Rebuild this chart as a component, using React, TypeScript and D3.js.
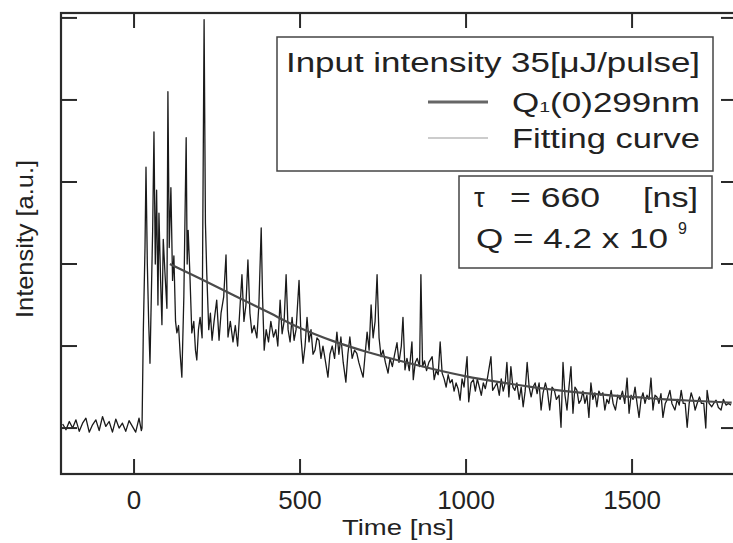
import React from "react";
import * as d3 from "d3";

const timeNs: number[] = [
  -215,-205,-195,-185,-175,-165,-155,-145,-135,-125,-115,-105,-95,-85,-75,-65,-55,-45,-35,-25,-15,-5,5,15,22,
  24,28,33,36,40,44,48,52,56,60,64,68,72,75,80,84,88,93,99,102,106,111,116,120,125,129,134,139,144,150,157,160,163,168,174,180,185,189,194,199,205,211,215,219,225,230,235,241,249,256,262,270,277,283,290,298,305,312,318,325,331,337,343,349,355,362,370,376,383,387,392,398,405,412,420,427,433,440,446,452,458,464,470,476,482,488,497,503,509,515,521,527,533,539,545,551,557,563,569,577,584,590,597,604,611,617,623,630,638,644,650,657,664,671,677,684,690,696,702,708,714,720,726,732,738,744,750,757,765,771,778,785,792,798,805,810,816,822,829,837,841,847,853,860,864,869,875,881,888,898,904,910,916,922,928,934,940,946,952,958,964,970,976,982,988,994,1003,1008,1015,1022,1028,1034,1040,1046,1052,1058,1064,1075,1080,1086,1093,1100,1106,1112,1118,1123,1129,1135,1141,1147,1153,1160,1166,1172,1178,1184,1190,1196,1202,1208,1214,1220,1226,1232,1239,1245,1252,1259,1266,1272,1280,1286,1292,1298,1304,1310,1316,1322,1328,1334,1340,1346,1352,1358,1364,1370,1376,1382,1388,1394,1400,1406,1412,1418,1424,1430,1437,1443,1450,1457,1464,1471,1478,1485,1491,1497,1503,1509,1515,1521,1527,1533,1539,1545,1551,1557,1563,1569,1575,1581,1587,1593,1600,1606,1614,1620,1629,1636,1642,1648,1654,1660,1666,1672,1678,1684,1690,1696,1703,1709,1716,1722,1726,1732,1740,1746,1753,1760,1768,1775,1783,1790,1798
];

const intensity: number[] = [
  0.05,-0.02,0.08,0.0,0.1,-0.04,0.06,0.12,-0.05,0.04,0.1,-0.03,0.14,0.02,0.08,-0.05,0.11,0.0,0.06,-0.04,0.09,0.02,-0.05,0.12,-0.03,
  0.0,1.2,2.2,3.18,2.0,1.3,0.79,1.6,2.4,3.61,2.0,2.9,1.5,2.62,1.8,1.26,2.3,1.9,1.46,4.1,2.2,2.93,1.8,2.1,1.3,1.16,1.25,0.9,0.62,1.6,3.54,2.0,2.41,1.9,1.16,1.3,0.95,0.83,1.2,1.35,1.1,4.98,2.5,1.89,1.2,1.4,1.07,1.3,1.56,1.07,1.4,1.6,2.11,1.11,1.3,1.05,1.25,1.0,1.4,1.87,1.3,1.5,2.05,1.4,1.16,1.25,1.1,1.5,2.44,1.6,0.95,1.2,1.05,1.3,1.11,1.2,1.0,1.56,1.15,1.3,1.87,1.2,1.05,1.35,1.07,1.2,1.8,1.1,0.79,1.0,1.35,1.05,1.2,0.9,0.95,1.1,1.07,0.85,1.0,0.8,0.62,0.9,1.0,0.85,1.17,0.9,1.11,0.8,0.56,0.9,1.11,0.85,0.95,0.91,0.8,0.7,0.62,0.9,1.17,0.95,1.5,1.1,1.3,1.87,1.1,0.87,0.95,0.8,0.67,0.85,0.75,0.9,1.04,0.8,1.0,1.35,0.71,0.85,0.7,1.05,0.59,0.8,0.85,0.75,1.87,0.75,0.82,0.7,0.8,0.87,0.59,0.7,0.65,1.05,0.67,0.6,0.5,0.65,0.55,0.59,0.45,0.55,0.48,0.34,0.6,0.5,0.87,0.32,0.55,0.59,0.45,0.6,0.5,0.4,0.55,0.48,0.6,0.87,0.46,0.5,0.55,0.4,0.6,0.45,0.55,0.8,0.38,0.75,0.5,0.46,0.55,0.35,0.5,0.26,0.45,0.8,0.5,0.38,0.5,0.55,0.42,0.55,0.22,0.43,0.55,0.45,0.22,0.5,0.46,0.35,0.4,0.01,0.8,0.4,0.22,0.5,0.75,0.18,0.5,0.46,0.3,0.34,0.45,0.3,0.4,0.13,0.55,0.35,0.43,0.26,0.45,0.4,0.43,0.22,0.35,0.3,0.46,0.3,0.22,0.4,0.35,0.45,0.3,0.61,0.18,0.4,0.35,0.5,0.3,0.13,0.35,0.43,0.3,0.4,0.35,0.61,0.22,0.4,0.38,0.3,0.42,0.13,0.3,0.35,0.46,0.3,0.22,0.35,0.28,0.46,0.3,0.3,0.01,0.3,0.43,0.35,0.22,0.3,0.38,0.3,0.3,0.0,0.46,0.3,0.26,0.3,0.34,0.25,0.22,0.35,0.28,0.3,0.28
];

const fitTime: number[] = [108,200,300,400,500,600,700,800,900,1000,1100,1200,1300,1400,1500,1600,1700,1800];
const fitValue: number[] = [2.0,1.82,1.62,1.42,1.22,1.06,0.93,0.82,0.72,0.63,0.56,0.5,0.45,0.41,0.38,0.35,0.33,0.31];

const xTicks: number[] = [0, 500, 1000, 1500];
const xTickLabels: string[] = ["0", "500", "1000", "1500"];
const yTicks: number[] = [0, 1, 2, 3, 4, 5];

const W = 733;
const H = 543;
const FONT = "'Liberation Sans', Arial, Helvetica, sans-serif";

export default function App() {
  const left = 61, right = 733, top = 13, bottom = 474;
  const x = d3.scaleLinear().domain([-220, 1804]).range([left, right]);
  const y = d3.scaleLinear().domain([-0.56, 5.06]).range([bottom, top]);

  const dataPts: [number, number][] = timeNs.map((t, i) => [t, intensity[i]]);
  const fitPts: [number, number][] = fitTime.map((t, i) => [t, fitValue[i]]);
  const line = d3.line<[number, number]>().x(d => x(d[0])).y(d => y(d[1]));
  const fitLine = d3.line<[number, number]>().x(d => x(d[0])).y(d => y(d[1])).curve(d3.curveMonotoneX);

  return (
    <svg width={W} height={H} style={{ position: "absolute", left: 0, top: 0, background: "#fff" }} fontFamily={FONT}>
      <defs>
        <clipPath id="plot">
          <rect x={left} y={top} width={right - left + 2} height={bottom - top} />
        </clipPath>
      </defs>
      <g clipPath="url(#plot)">
        <path d={line(dataPts) || ""} fill="none" stroke="#1a1a1a" strokeWidth={1.3} strokeLinejoin="round" />
        <path d={fitLine(fitPts) || ""} fill="none" stroke="#4a4a4a" strokeWidth={2.2} />
      </g>
      {/* frame */}
      <rect x={left} y={top} width={right - left + 4} height={bottom - top} fill="none" stroke="#2a2a2a" strokeWidth={2.2} />
      {/* x ticks */}
      {xTicks.map((t, i) => (
        <g key={"xt" + i}>
          <line x1={x(t)} x2={x(t)} y1={bottom} y2={bottom - 15} stroke="#2a2a2a" strokeWidth={2} />
          <line x1={x(t)} x2={x(t)} y1={top} y2={top + 15} stroke="#2a2a2a" strokeWidth={2} />
          <text x={x(t)} y={509} textAnchor="middle" fontSize={26} fill="#222">{xTickLabels[i]}</text>
        </g>
      ))}
      {/* y ticks */}
      {yTicks.map((v, i) => (
        <g key={"yt" + i}>
          <line x1={left} x2={left + 16} y1={y(v)} y2={y(v)} stroke="#2a2a2a" strokeWidth={2} />
          <line x1={right} x2={right - 12} y1={y(v)} y2={y(v)} stroke="#2a2a2a" strokeWidth={2} />
        </g>
      ))}
      <text x={342} y={535} fontSize={22} fill="#222" textLength={112} lengthAdjust="spacingAndGlyphs">Time [ns]</text>
      <text transform="translate(33,318) rotate(-90)" fontSize={24} fill="#222" textLength={158} lengthAdjust="spacingAndGlyphs">Intensity [a.u.]</text>

      {/* legend box */}
      <rect x={277} y={37} width={436} height={134} fill="#fff" stroke="#444" strokeWidth={1.5} />
      <text x={286} y={72} fontSize={27} fill="#222" textLength={414} lengthAdjust="spacingAndGlyphs">Input intensity 35[μJ/pulse]</text>
      <line x1={428} x2={488} y1={102} y2={102} stroke="#666" strokeWidth={3} />
      <text x={512} y={112} fontSize={27} fill="#222" textLength={188} lengthAdjust="spacingAndGlyphs">
        Q<tspan fontSize={15}>1</tspan>(0)299nm
      </text>
      <line x1={428} x2={488} y1={138} y2={138} stroke="#999" strokeWidth={1.2} />
      <text x={512} y={148} fontSize={27} fill="#222" textLength={188} lengthAdjust="spacingAndGlyphs">Fitting curve</text>

      {/* parameter box */}
      <rect x={459} y={176} width={253} height={92} fill="#fff" stroke="#444" strokeWidth={1.5} />
      <text x={474} y={207} fontSize={27} fill="#222">τ</text>
      <text x={510} y={207} fontSize={27} fill="#222" textLength={90} lengthAdjust="spacingAndGlyphs">= 660</text>
      <text x={643} y={207} fontSize={27} fill="#222" textLength={55} lengthAdjust="spacingAndGlyphs">[ns]</text>
      <text x={476} y={248} fontSize={27} fill="#222" textLength={192} lengthAdjust="spacingAndGlyphs">Q = 4.2 x 10</text>
      <text x={678} y={234} fontSize={16} fill="#222">9</text>
    </svg>
  );
}
